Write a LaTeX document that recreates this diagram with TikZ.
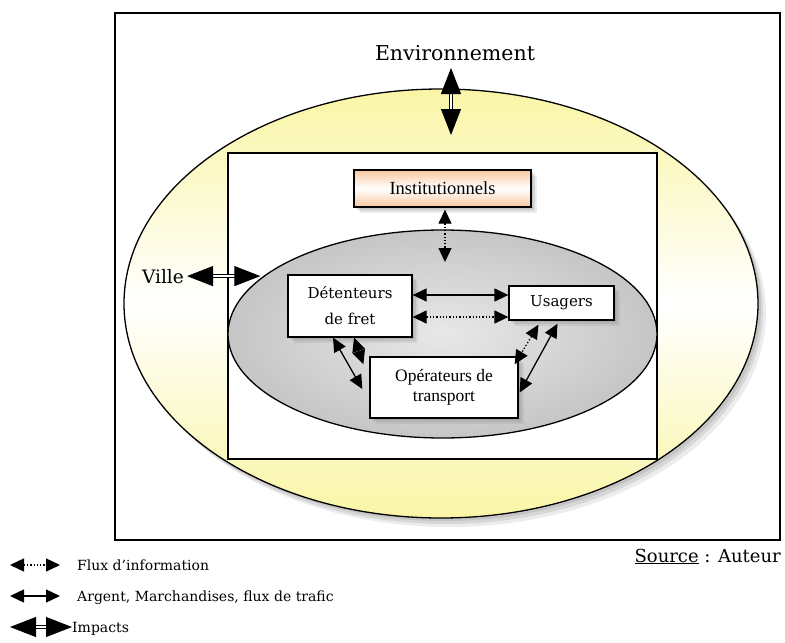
\documentclass[tikz,border=0pt]{standalone}
\usepackage{fontspec}
\setmainfont{DejaVu Serif}
\newfontfamily\garafont{Liberation Serif}
\usetikzlibrary{arrows.meta,shadows,shapes.geometric}
\definecolor{yel}{RGB}{250,245,165}
\definecolor{peach}{RGB}{250,200,160}
\begin{document}
\begin{tikzpicture}[x=1pt,y=-1pt,
  softshadow/.style={
    drop shadow={opacity=0.22, shadow xshift=2pt, shadow yshift=-2pt},
    drop shadow={opacity=0.2, shadow xshift=4pt, shadow yshift=-4pt},
    drop shadow={opacity=0.15, shadow xshift=6pt, shadow yshift=-6pt}},
  box/.style={draw, line width=1.3pt, fill=white, align=center, inner sep=0pt, softshadow},
  flow/.style={line width=1.3pt, {Triangle[length=14pt,width=13pt]}-{Triangle[length=14pt,width=13pt]}},
  info/.style={flow, dash pattern=on 1.3pt off 2pt},
  impact/.style={double, double distance=2.4pt, line width=0.9pt,
    {Triangle[length=26pt,width=20pt]}-{Triangle[length=26pt,width=20pt]}},
  mid/.style={font=\fontsize{15pt}{26pt}\selectfont},
  gara/.style={font=\garafont\fontsize{18.5pt}{20pt}\selectfont},
  leg/.style={font=\fontsize{14pt}{16pt}\selectfont, anchor=base west, inner sep=0pt}
]
\useasboundingbox (0,0) rectangle (785,643);
% frames
\node[draw, line width=1.3pt, minimum width=665pt, minimum height=527pt, inner sep=0] (frame) at (447.5,276.5) {};
\node[ellipse, draw, line width=1.3pt, minimum width=634pt, minimum height=429pt, inner sep=0,
  top color=yel, bottom color=yel, middle color=white,
  drop shadow={opacity=0.2, shadow xshift=3pt, shadow yshift=-3pt},
  drop shadow={opacity=0.2, shadow xshift=5pt, shadow yshift=-6pt},
  drop shadow={opacity=0.15, shadow xshift=8pt, shadow yshift=-9pt}] (town) at (441,303.5) {};
\node[draw, line width=1.3pt, fill=white, minimum width=429pt, minimum height=306pt, inner sep=0] (inner) at (442.5,306) {};
\node[ellipse, draw, line width=1.3pt, minimum width=429pt, minimum height=208pt, inner sep=0,
  inner color=gray!18, outer color=gray!45] (core) at (442.5,334) {};
% boxes
\node[box, gara, minimum width=177pt, minimum height=37pt, top color=peach, bottom color=peach, middle color=white] (inst) at (442.5,188.5) {Institutionnels};
\node[box, mid, minimum width=124pt, minimum height=62pt] (det) at (350,306) {Détenteurs\\de fret};
\node[box, mid, minimum width=105pt, minimum height=34pt] (usa) at (561.5,303) {Usagers};
\node[box, font=\garafont\fontsize{17.5pt}{20pt}\selectfont, minimum width=148pt, minimum height=61pt] (ope) at (444,387.5) {Opérateurs de\\transport};
% labels
\node[font=\fontsize{20.5pt}{24pt}\selectfont, inner sep=0, anchor=base] (env) at (455,60) {Environnement};
\node[font=\fontsize{18.5pt}{22pt}\selectfont, inner sep=0, anchor=base east] (ville) at (184,283) {Ville};
% impacts
\coordinate (envA) at (451,68);
\coordinate (envB) at (451,135);
\draw[impact] (envA) -- (envB);
\draw[impact] ([xshift=3pt]ville.east) -- (ville.east -| core.163.5);
% flows
\coordinate (instB) at (445,262);
\draw[info] ([xshift=2.5pt,yshift=-2pt]inst.south) -- (instB);
\draw[flow] ([yshift=11pt]det.east) -- ([yshift=8pt]usa.west);
\draw[info] ([yshift=-11pt]det.east) -- ([yshift=-14pt]usa.west);
\draw[flow] ([xshift=-17pt]det.south) -- ([xshift=-7pt,yshift=-1.5pt]ope.west);
\draw[info] ([xshift=4pt]det.south) -- ([xshift=-6pt,yshift=-8pt]ope.north west);
\draw[info] ([xshift=-23pt,yshift=-4pt]usa.south) -- ([xshift=-4pt,yshift=-8pt]ope.north east);
\draw[flow] ([xshift=-4pt,yshift=-3pt]usa.south) -- ([xshift=1pt,yshift=-5pt]ope.east);
% legend
\coordinate (l1a) at (10,565); \coordinate (l1b) at (60,565);
\coordinate (l2a) at (10,596); \coordinate (l2b) at (60,596);
\coordinate (l3a) at (10,627); \coordinate (l3b) at (72,627);
\draw[info] (l1a) -- (l1b);
\draw[flow] (l2a) -- (l2b);
\draw[impact] (l3a) -- (l3b);
\node[leg] (t1) at (77,570) {Flux d’information};
\node[leg] (t2) at (77,601) {Argent, Marchandises, flux de trafic};
\node[leg] (t3) at (72,632) {Impacts};
\node[font=\fontsize{18pt}{20pt}\selectfont, anchor=base east, inner sep=0] (src) at (781,562) {\underline{Source} : Auteur};
\end{tikzpicture}
\end{document}
